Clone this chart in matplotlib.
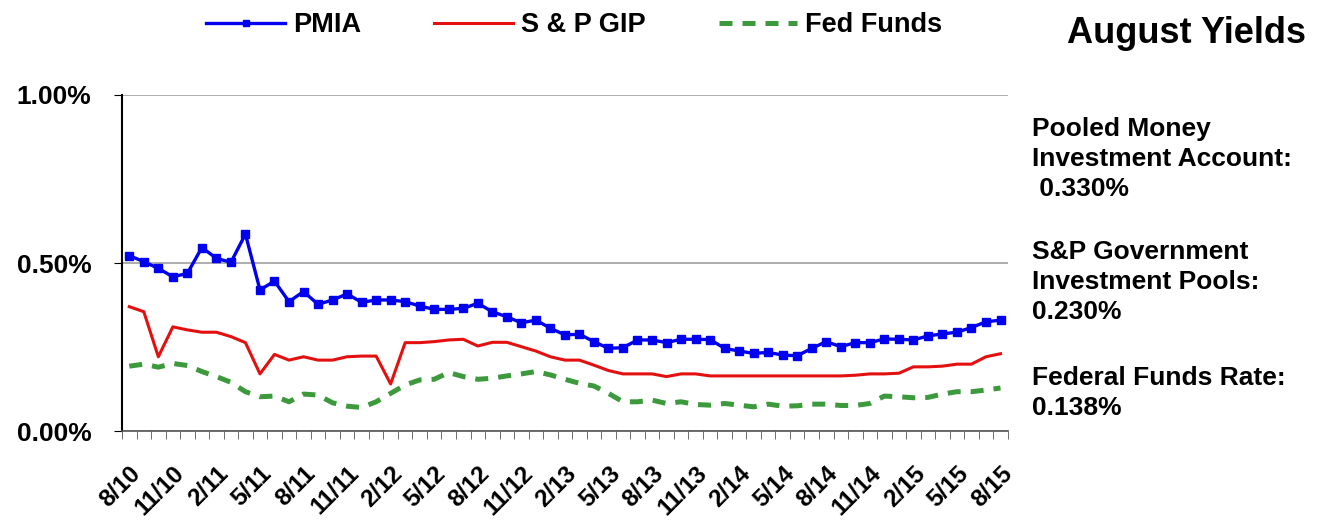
import matplotlib
matplotlib.use("Agg")
import matplotlib.pyplot as plt
from matplotlib.ticker import FixedLocator, FuncFormatter

plt.rcParams['font.family'] = ['Liberation Sans', 'DejaVu Sans']
plt.rcParams['font.weight'] = 'bold'

# ---- data (monthly, 8/10 .. 8/15) ----
months = [f"{(7 + i) % 12 + 1}/{10 + (7 + i) // 12}" for i in range(61)]
tick_labels = months[::3]

pmia = [0.522, 0.504, 0.484, 0.459, 0.469, 0.546, 0.514, 0.502, 0.586, 0.420,
        0.446, 0.385, 0.415, 0.377, 0.390, 0.408, 0.383, 0.390, 0.390, 0.385,
        0.372, 0.362, 0.362, 0.365, 0.380, 0.355, 0.340, 0.322, 0.330, 0.306,
        0.286, 0.288, 0.266, 0.246, 0.248, 0.271, 0.271, 0.263, 0.273, 0.273,
        0.272, 0.246, 0.238, 0.231, 0.234, 0.226, 0.224, 0.246, 0.266, 0.251,
        0.263, 0.263, 0.274, 0.273, 0.271, 0.283, 0.289, 0.294, 0.308, 0.325,
        0.330]
sp_gip = [0.370, 0.355, 0.221, 0.310, 0.301, 0.294, 0.294, 0.281, 0.263, 0.170,
          0.228, 0.211, 0.221, 0.211, 0.211, 0.221, 0.223, 0.223, 0.140, 0.263,
          0.263, 0.266, 0.271, 0.273, 0.253, 0.264, 0.264, 0.251, 0.238, 0.221,
          0.211, 0.211, 0.196, 0.180, 0.170, 0.170, 0.170, 0.162, 0.170, 0.170,
          0.164, 0.164, 0.164, 0.164, 0.164, 0.164, 0.164, 0.164, 0.164, 0.164,
          0.166, 0.170, 0.170, 0.172, 0.191, 0.191, 0.193, 0.199, 0.199, 0.221,
          0.230]
fed_funds = [0.193, 0.199, 0.190, 0.201, 0.195, 0.177, 0.162, 0.145, 0.117, 0.102,
             0.104, 0.087, 0.110, 0.107, 0.084, 0.074, 0.070, 0.087, 0.112, 0.137,
             0.152, 0.154, 0.174, 0.162, 0.154, 0.157, 0.164, 0.170, 0.177, 0.167,
             0.154, 0.142, 0.134, 0.112, 0.087, 0.087, 0.092, 0.082, 0.087, 0.079,
             0.077, 0.082, 0.077, 0.072, 0.080, 0.074, 0.075, 0.080, 0.080, 0.076,
             0.076, 0.082, 0.104, 0.102, 0.099, 0.100, 0.110, 0.117, 0.117, 0.122,
             0.128]

side_notes = ["Pooled Money\nInvestment Account:\n 0.330%",
              "S&P Government\nInvestment Pools:\n0.230%",
              "Federal Funds Rate:\n0.138%"]

# ---- figure ----
fig = plt.figure(figsize=(13.22, 5.21), dpi=100)
ax = fig.add_axes([0.0923, 0.1727, 0.670, 0.645])

x = list(range(len(months)))
ax.plot(x, pmia, color='#0000EE', linewidth=2.4, marker='s', markersize=6,
        label='PMIA')
ax.plot(x, sp_gip, color='#E41010', linewidth=2.2, label='S & P GIP')
ax.plot(x, fed_funds, color='#3C9A3C', linewidth=3.6, linestyle=(0, (2.6, 2.0)),
        label='Fed Funds')

ax.set_xlim(-0.5, len(months) - 0.5)
ax.set_ylim(0, 1.0)
ax.set_yticks([0, 0.5, 1.0])
ax.yaxis.set_major_formatter(FuncFormatter(lambda v, p: f"{v:.2f}%"))
ax.grid(axis='y', color='#A0A0A0', linewidth=1.2)
ax.set_axisbelow(True)

ax.set_xticks(range(0, len(months), 3))
ax.set_xticklabels(tick_labels, rotation=45, ha='right', va='top',
                   rotation_mode='anchor', fontsize=17.5, fontweight='bold')
ax.tick_params(axis='x', which='major', length=0, pad=22)
ax.xaxis.set_minor_locator(FixedLocator([i + 0.5 for i in range(-1, len(months))]))
ax.tick_params(axis='x', which='minor', length=6, color='#555555')
ax.tick_params(axis='y', length=6, labelsize=19, pad=16)
for lbl in ax.get_yticklabels():
    lbl.set_fontweight('bold')

for side in ['top', 'right']:
    ax.spines[side].set_visible(False)
ax.spines['left'].set_linewidth(1.5)
ax.spines['bottom'].set_linewidth(1.2)
ax.spines['bottom'].set_color('#555555')

fig.legend(loc='center', bbox_to_anchor=(0.4346, 0.952), ncol=3, frameon=False,
           handlelength=2.9, handletextpad=0.3, columnspacing=2.7, numpoints=1,
           markerscale=0.8, prop={'size': 19.5, 'weight': 'bold'})

fig.text(0.988, 0.936, "August Yields", ha='right', va='center', fontsize=26,
         fontweight='bold')
for note, ytop in zip(side_notes, [0.776, 0.540, 0.298]):
    fig.text(0.781, ytop, note, ha='left', va='top', fontsize=19,
             fontweight='bold', linespacing=1.32)

fig.savefig('out.png', dpi=100)
